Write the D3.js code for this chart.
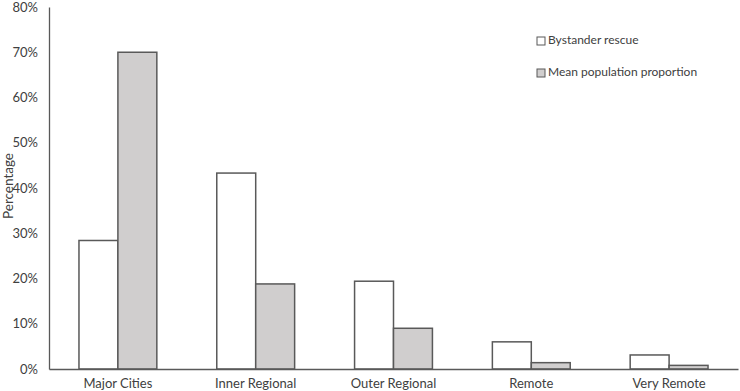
<!DOCTYPE html>
<html>
<head>
<meta charset="utf-8">
<script src="https://cdn.jsdelivr.net/npm/d3@7"></script>
<style>
  body { margin: 0; background: #fff; }
  text { font-family: Lato, "Open Sans", sans-serif; fill: #404040; }
</style>
</head>
<body>
<div id="chart"></div>
<script>
const categories = ["Major Cities", "Inner Regional", "Outer Regional", "Remote", "Very Remote"];
const seriesNames = ["Bystander rescue", "Mean population proportion"];
const bystander = [28.4, 43.3, 19.4, 6.0, 3.1];
const population = [70.0, 18.8, 9.0, 1.4, 0.8];
const yTicks = [0, 10, 20, 30, 40, 50, 60, 70, 80];

const width = 740, height = 391;
const margin = { top: 7, right: 2, bottom: 22, left: 49 };
const colors = ["#ffffff", "#d0cece"];

const svg = d3.select("#chart")
  .append("svg")
    .attr("width", width)
    .attr("height", height);

const x = d3.scaleBand()
  .domain(categories)
  .range([margin.left, width - margin.right])
  .paddingInner(0.435)
  .paddingOuter(0.2175);

const x1 = d3.scaleBand()
  .domain(seriesNames)
  .range([0, x.bandwidth()]);

const y = d3.scaleLinear()
  .domain([0, 80])
  .range([height - margin.bottom, margin.top]);

// Bars
const rows = categories.map((c, i) => ({ cat: c, vals: [bystander[i], population[i]] }));
const groups = svg.selectAll(".grp")
  .data(rows)
  .join("g")
    .attr("class", "grp")
    .attr("transform", d => `translate(${x(d.cat)},0)`);

groups.selectAll("rect")
  .data(d => d.vals.map((v, k) => ({ name: seriesNames[k], v, k })))
  .join("rect")
    .attr("x", d => x1(d.name))
    .attr("width", x1.bandwidth())
    .attr("y", d => y(d.v))
    .attr("height", d => y(0) - y(d.v))
    .attr("fill", d => colors[d.k])
    .attr("stroke", "#595959")
    .attr("stroke-width", 1.5);

// Y axis
const yAxis = svg.append("g")
  .attr("transform", `translate(${margin.left},0)`)
  .call(d3.axisLeft(y).tickValues(yTicks).tickFormat(d => d + "%").tickSize(0).tickPadding(11));
yAxis.select(".domain").attr("stroke", "#595959").attr("stroke-width", 1.3);
yAxis.selectAll("text").style("font-size", "13px").attr("fill", "#404040");

// X axis
const xAxis = svg.append("g")
  .attr("transform", `translate(0,${y(0)})`)
  .call(d3.axisBottom(x).tickSize(0).tickPadding(10));
xAxis.select(".domain").attr("stroke", "#595959").attr("stroke-width", 1.3);
xAxis.selectAll("text").style("font-size", "13px").attr("fill", "#404040");

// Y title
svg.append("text")
  .attr("transform", `translate(10,186) rotate(-90)`)
  .attr("text-anchor", "middle")
  .attr("dominant-baseline", "middle")
  .style("font-size", "13.5px")
  .text("Percentage");

// Legend
const legend = svg.append("g").attr("transform", "translate(537,41)");
seriesNames.forEach((name, i) => {
  const g = legend.append("g").attr("transform", `translate(0,${i * 32})`);
  g.append("rect")
    .attr("x", 0).attr("y", -4)
    .attr("width", 8).attr("height", 8)
    .attr("fill", colors[i])
    .attr("stroke", "#595959")
    .attr("stroke-width", 1);
  g.append("text")
    .attr("x", 11)
    .attr("y", 0)
    .attr("dominant-baseline", "middle")
    .style("font-size", "12px")
    .text(name);
});
</script>
</body>
</html>
